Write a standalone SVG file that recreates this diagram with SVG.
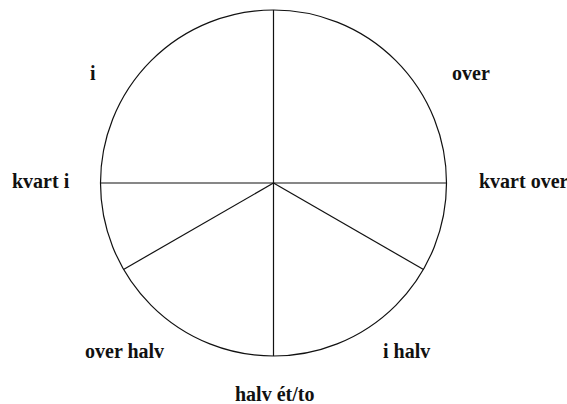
<svg xmlns="http://www.w3.org/2000/svg" width="567" height="404" viewBox="0 0 567 404">
<style>
.l{font-family:"Liberation Serif","Times New Roman",serif;font-weight:bold;font-size:20px;fill:#111}
.s{stroke:#111;stroke-width:1.2;fill:none}
</style>
<rect width="567" height="404" fill="#fff"/>
<g id="circle"><circle class="s" cx="273.5" cy="183" r="173"/></g>
<g id="connectors">
<line class="s" x1="273.5" y1="10" x2="273.5" y2="356"/>
<line class="s" x1="100.5" y1="183" x2="446.5" y2="183"/>
<line class="s" x1="273.5" y1="183" x2="123.5" y2="269.5"/>
<line class="s" x1="273.5" y1="183" x2="423.5" y2="269.5"/>
</g>
<g id="label-i"><text class="l" x="90" y="80">i</text></g>
<g id="label-over"><text class="l" x="452" y="80">over</text></g>
<g id="label-kvart-i"><text class="l" x="12" y="188">kvart i</text></g>
<g id="label-kvart-over"><text class="l" x="479" y="188">kvart over</text></g>
<g id="label-over-halv"><text class="l" x="85" y="358">over halv</text></g>
<g id="label-i-halv"><text class="l" x="383" y="358">i halv</text></g>
<g id="label-halv-et-to"><text class="l" x="235" y="401">halv ét/to</text></g>
</svg>
